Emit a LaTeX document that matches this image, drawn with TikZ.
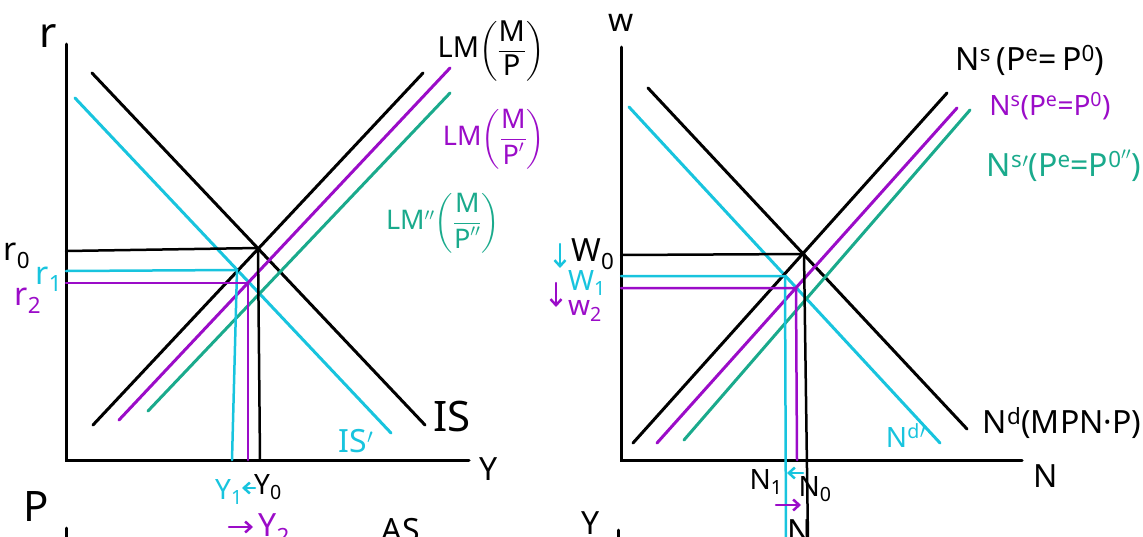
\documentclass[tikz,border=0pt]{standalone}
\usepackage{fontspec}
\setmainfont{Noto Sans}
\usepackage{amsmath}
\usetikzlibrary{arrows.meta}
\definecolor{cy}{RGB}{24,196,222}
\definecolor{mg}{RGB}{155,12,200}
\definecolor{gr}{RGB}{26,170,140}
\begin{document}
\begin{tikzpicture}[x=1pt,y=-1pt,line width=3pt,line cap=round,
  lbl/.style={inner sep=0pt,font=\fontsize{32}{34}\selectfont},
  big/.style={inner sep=0pt,font=\fontsize{42}{44}\selectfont},
  small/.style={inner sep=0pt,font=\fontsize{28}{30}\selectfont},
  frac/.style={inner sep=0pt,font=\fontsize{29}{30}\selectfont},
  arr/.style={line width=2.5pt,-{Straight Barb[length=6pt,width=11pt]}},
  thin/.style={line width=2.5pt}]
\useasboundingbox (0,0) rectangle (1143,536);
\clip (0,0) rectangle (1143,536);
% ---------- left graph: IS-LM ----------
\coordinate (LyT) at (66,44);
\coordinate (LO) at (66,460);
\coordinate (LxR) at (469,460);
\draw (LyT) -- (LO) -- (LxR);
\coordinate (IS1) at (92,73);  \coordinate (IS2) at (425,425);
\coordinate (ISp1) at (75,98); \coordinate (ISp2) at (391,433);
\coordinate (LM1) at (93,425); \coordinate (LM2) at (423,73);
\coordinate (LMp1) at (119,420); \coordinate (LMp2) at (450,68);
\coordinate (LMpp1) at (148,411); \coordinate (LMpp2) at (450,93);
\draw[cy] (ISp1) -- (ISp2);
\draw (IS1) -- (IS2);
\draw[gr] (LMpp1) -- (LMpp2);
\draw[mg] (LMp1) -- (LMp2);
\draw (LM1) -- (LM2);
\coordinate (E0) at (258,248);
\coordinate (E1) at (237,270);
\coordinate (E2) at (248,283);
\draw[thin] (66,251) -- (E0) -- (260,460);
\draw[cy,thin] (66,271) -- (E1) -- (232,460);
\draw[mg,thin] (66,283) -- (E2) -- (248,460);
% labels left
\node[big] (r) at (48,36) {r};
\node[lbl] (r0) at (17,256) {r$_{\mathrm 0}$};
\node[lbl,cy] (r1) at (49,279) {r$_{\mathrm 1}$};
\node[lbl,mg] (r2) at (28,301) {r$_{\mathrm 2}$};
\node[frac] (lmA) at (491,51) {LM$\left(\displaystyle\frac{\mbox{M}}{\mbox{P}}\right)$};
\node[frac,mg,font=\fontsize{27}{28}\selectfont] (lmB) at (494,139) {LM$\left(\displaystyle\frac{\mbox{M}}{\mbox{P}'}\right)$};
\node[frac,gr,font=\fontsize{27}{28}\selectfont] (lmC) at (443,223) {LM$''\!\left(\displaystyle\frac{\mbox{M}}{\mbox{P}''}\right)$};
\node[big] (isl) at (452,416) {IS};
\node[lbl,cy] (ispl) at (356,441) {IS$'$};
\node[lbl] (ylab) at (489,469) {Y};
\node[small,cy] (y1) at (229,492) {Y$_{\mathrm 1}$};
\node[small] (y0) at (268,487) {Y$_{\mathrm 0}$};
\coordinate (ya) at (255,488); \coordinate (yb) at (242,488);
\draw[cy,arr] (ya) -- (yb);
\node[lbl,mg,anchor=north west] (y2) at (257,512) {Y$_{\mathrm 2}$};
\coordinate (a2s) at (229,527); \coordinate (a2e) at (253,527);
\draw[mg,arr] (a2s) -- (a2e);
% lower graphs (cut off)
\node[big,anchor=north] (plab) at (36,490) {P};
\node[lbl,anchor=north] (aslab) at (401,517) {AS};
\node[lbl,anchor=north] (ylow) at (591,510) {Y};
\draw (66,528) -- (66,545);
\draw (618,530) -- (618,545);
% ---------- right graph: labour market ----------
\coordinate (RyT) at (621,47);
\coordinate (RO) at (621,460);
\coordinate (RxR) at (1022,460);
\draw (RyT) -- (RO) -- (RxR);
\coordinate (Nd1) at (648,88);  \coordinate (Nd2) at (967,429);
\coordinate (Ndp1) at (629,107); \coordinate (Ndp2) at (940,443);
\coordinate (Ns1) at (633,443); \coordinate (Ns2) at (947,93);
\coordinate (Nsp1) at (657,443); \coordinate (Nsp2) at (957,108);
\coordinate (Nspp1) at (684,440); \coordinate (Nspp2) at (970,110);
\draw[cy] (Ndp1) -- (Ndp2);
\draw (Nd1) -- (Nd2);
\draw[gr] (Nspp1) -- (Nspp2);
\draw[mg] (Nsp1) -- (Nsp2);
\draw (Ns1) -- (Ns2);
\coordinate (F0) at (804,254);
\coordinate (F1) at (785,276);
\coordinate (F2) at (796,288);
\draw[thin] (621,255) -- (F0) -- (808,540);
\draw[cy,thin] (621,276) -- (F1) -- (786,540);
\draw[mg,thin] (621,288) -- (F2) -- (797,460);
% labels right
\node[lbl] (w) at (621,23) {w};
\node[lbl] (w0) at (593,254) {W$_{\mathrm 0}$};
\node[small,cy] (w1) at (587,283) {W$_{\mathrm 1}$};
\node[small,mg] (w2) at (585,311) {w$_{\mathrm 2}$};
\coordinate (dc1) at (560,244); \coordinate (dc2) at (560,268);
\draw[cy,arr] (dc1) -- (dc2);
\coordinate (dm1) at (556,283); \coordinate (dm2) at (556,307);
\draw[mg,arr] (dm1) -- (dm2);
\node[lbl] (nsA) at (1030,60) {N$^{\mathrm s}$\,(P$^{\mathrm e}$=\,P$^{\mathrm 0}$)};
\node[small,mg] (nsB) at (1050,106) {N$^{\mathrm s}$(P$^{\mathrm e}$=P$^{\mathrm 0}$)};
\node[lbl,gr] (nsC) at (1064,166) {N$^{\mathrm s}{}'$(P$^{\mathrm e}$=P$^{\mathrm 0''}$)};
\node[lbl] (ndA) at (1062,423) {N$^{\mathrm d}$(MPN·P)};
\node[small,cy] (ndB) at (906,436) {N$^{\mathrm d}{}'$};
\node[lbl] (nlab) at (1046,476) {N};
\node[small] (n1) at (766,482) {N$_{\mathrm 1}$};
\node[small] (n0) at (815,489) {N$_{\mathrm 0}$};
\coordinate (nca) at (803,473); \coordinate (ncb) at (787,473);
\draw[cy,arr] (nca) -- (ncb);
\coordinate (nma) at (776,505); \coordinate (nmb) at (801,505);
\draw[mg,arr] (nma) -- (nmb);
\node[lbl,anchor=north] (nlow) at (800,518) {N};
\end{tikzpicture}
\end{document}
